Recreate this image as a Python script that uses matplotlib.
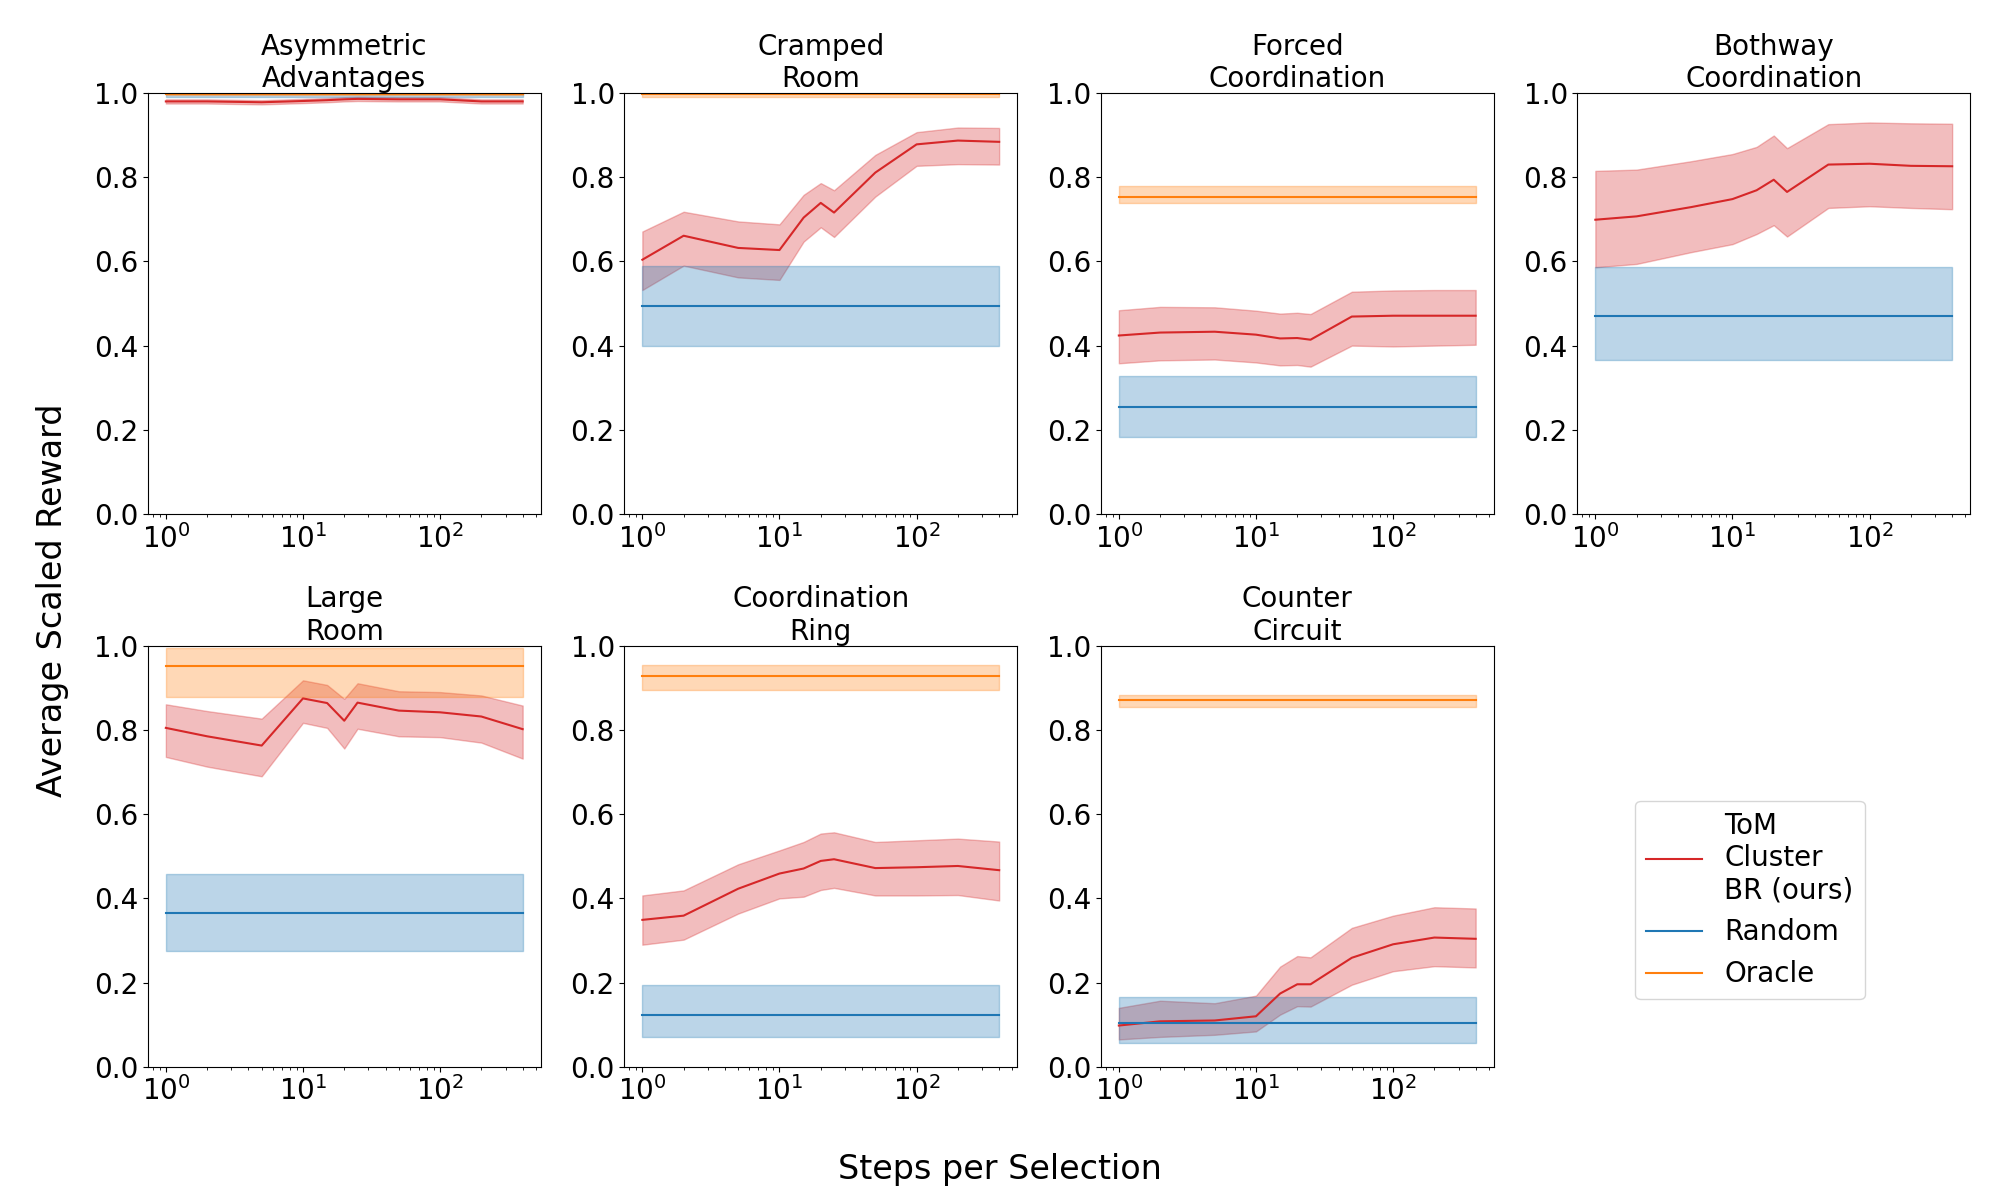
import numpy as np
import matplotlib
matplotlib.use("Agg")
import matplotlib.pyplot as plt

steps = [1, 2, 5, 10, 15, 20, 25, 50, 100, 200, 400]

layouts = ["Asymmetric\nAdvantages", "Cramped\nRoom", "Forced\nCoordination", "Bothway\nCoordination",
           "Large\nRoom", "Coordination\nRing", "Counter\nCircuit"]

# ToM cluster BR: mean, lower, upper per layout
tom_mean = [
    [0.980, 0.980, 0.978, 0.981, 0.983, 0.985, 0.986, 0.985, 0.985, 0.980, 0.980],
    [0.604, 0.661, 0.632, 0.627, 0.704, 0.739, 0.716, 0.811, 0.878, 0.887, 0.884],
    [0.424, 0.431, 0.433, 0.426, 0.417, 0.418, 0.414, 0.469, 0.471, 0.471, 0.471],
    [0.699, 0.707, 0.729, 0.748, 0.769, 0.794, 0.765, 0.830, 0.832, 0.827, 0.826],
    [0.805, 0.785, 0.763, 0.875, 0.864, 0.822, 0.865, 0.846, 0.842, 0.832, 0.802],
    [0.349, 0.359, 0.423, 0.459, 0.471, 0.489, 0.493, 0.472, 0.474, 0.477, 0.467],
    [0.098, 0.108, 0.110, 0.120, 0.174, 0.196, 0.196, 0.259, 0.291, 0.307, 0.304],
]
tom_low = [
    [0.975, 0.975, 0.973, 0.976, 0.978, 0.980, 0.981, 0.980, 0.980, 0.975, 0.975],
    [0.532, 0.590, 0.562, 0.556, 0.647, 0.681, 0.658, 0.754, 0.827, 0.831, 0.830],
    [0.358, 0.365, 0.367, 0.360, 0.353, 0.354, 0.350, 0.400, 0.398, 0.400, 0.402],
    [0.586, 0.594, 0.622, 0.641, 0.665, 0.686, 0.659, 0.727, 0.731, 0.727, 0.724],
    [0.736, 0.713, 0.690, 0.817, 0.805, 0.756, 0.803, 0.785, 0.783, 0.770, 0.732],
    [0.290, 0.302, 0.364, 0.400, 0.404, 0.420, 0.425, 0.407, 0.407, 0.408, 0.395],
    [0.065, 0.071, 0.076, 0.084, 0.124, 0.144, 0.143, 0.195, 0.227, 0.239, 0.236],
]
tom_high = [
    [0.985, 0.985, 0.983, 0.986, 0.988, 0.990, 0.991, 0.990, 0.990, 0.985, 0.985],
    [0.671, 0.718, 0.695, 0.688, 0.758, 0.786, 0.769, 0.853, 0.907, 0.918, 0.917],
    [0.484, 0.492, 0.491, 0.483, 0.476, 0.478, 0.475, 0.528, 0.531, 0.532, 0.532],
    [0.815, 0.818, 0.838, 0.855, 0.872, 0.899, 0.869, 0.926, 0.930, 0.928, 0.927],
    [0.861, 0.845, 0.827, 0.918, 0.907, 0.874, 0.911, 0.892, 0.890, 0.882, 0.858],
    [0.407, 0.419, 0.481, 0.514, 0.534, 0.554, 0.557, 0.534, 0.538, 0.542, 0.535],
    [0.140, 0.157, 0.151, 0.169, 0.238, 0.263, 0.260, 0.330, 0.359, 0.379, 0.376],
]

# Random baseline: mean, lower, upper
rand_mean = [1.000, 0.495, 0.253, 0.471, 0.365, 0.123, 0.104]
rand_low = [0.990, 0.399, 0.182, 0.367, 0.276, 0.071, 0.057]
rand_high = [1.010, 0.588, 0.327, 0.586, 0.458, 0.195, 0.165]

# Oracle: mean, lower, upper (None = not shown)
orac_mean = [0.997, 0.997, 0.754, None, 0.951, 0.928, 0.871]
orac_low = [0.995, 0.991, 0.738, None, 0.879, 0.895, 0.855]
orac_high = [0.999, 1.000, 0.780, None, 0.995, 0.955, 0.882]

plt.rcParams['font.size'] = 20

fig, axes = plt.subplots(2, 4, figsize=(20, 12), dpi=100)
fig.subplots_adjust(left=0.074, right=0.985, top=0.9225, bottom=0.111, wspace=0.214, hspace=0.313)
axes = axes.flatten()

x = np.array(steps)
for i, name in enumerate(layouts):
    ax = axes[i]
    ax.plot(x, tom_mean[i], color='tab:red', label="ToM\nCluster\nBR (ours)")
    ax.fill_between(x, tom_low[i], tom_high[i], color='tab:red', alpha=0.3)
    ax.plot(x, [rand_mean[i]] * len(x), color='tab:blue', label="Random")
    ax.fill_between(x, rand_low[i], rand_high[i], color='tab:blue', alpha=0.3)
    if orac_mean[i] is not None:
        ax.plot(x, [orac_mean[i]] * len(x), color='tab:orange', label="Oracle")
        ax.fill_between(x, orac_low[i], orac_high[i], color='tab:orange', alpha=0.3)
    ax.set_xscale('log')
    ax.set_ylim(0, 1)
    ax.set_title(name, fontsize=20, pad=4)

axes[7].axis('off')
handles, labels = axes[0].get_legend_handles_labels()
fig.legend(handles, labels, loc='center', bbox_to_anchor=(0.875, 0.25), fontsize=20)

fig.supylabel("Average Scaled Reward", fontsize=24, x=0.018)
fig.supxlabel("Steps per Selection", fontsize=24, y=0.012)

plt.savefig("out.png")
